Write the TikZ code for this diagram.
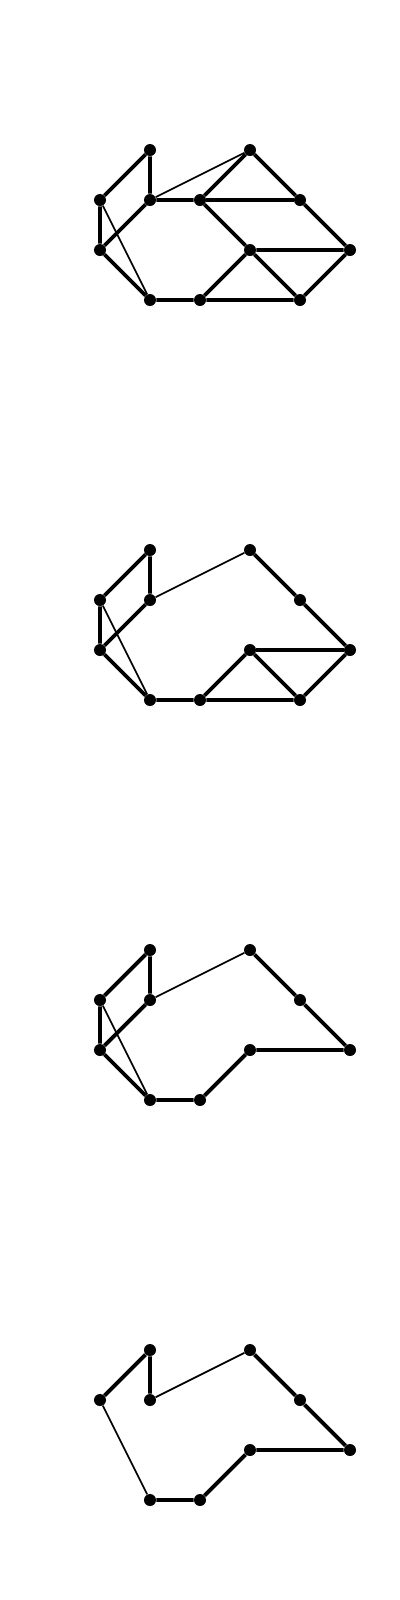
\documentclass[tikz,border=0pt]{standalone}

\tikzset{
  vert/.style={circle,fill=black,inner sep=0pt,minimum size=0.24cm},
  edge/.style={black,line width=2.2pt},
  thinedge/.style={black,line width=1pt},
}

\begin{document}
\begin{tikzpicture}
		\useasboundingbox (0,0) rectangle (8,-32);
		% first graph
		\begin{scope}
		\node[vert] (a1) at (3,-3) {};
		\node[vert] (b1) at (5,-3) {};
		\node[vert] (c1) at (2,-4) {};
		\node[vert] (d1) at (3,-4) {};
		\node[vert] (e1) at (4,-4) {};
		\node[vert] (f1) at (6,-4) {};
		\node[vert] (g1) at (2,-5) {};
		\node[vert] (h1) at (5,-5) {};
		\node[vert] (i1) at (7,-5) {};
		\node[vert] (j1) at (3,-6) {};
		\node[vert] (k1) at (4,-6) {};
		\node[vert] (l1) at (6,-6) {};
		\draw[edge] (c1)--(a1)--(d1)--(g1)--(c1);
		\draw[edge] (g1)--(j1)--(k1)--(l1)--(i1)--(f1)--(b1)--(e1)--(d1);
		\draw[edge] (e1)--(f1);
		\draw[edge] (e1)--(h1)--(i1);
		\draw[edge] (k1)--(h1)--(l1);
		\draw[thinedge] (c1)--(j1);
		\draw[thinedge] (d1)--(b1);
		\end{scope}
		% second graph
		\begin{scope}[yshift=-8cm]
		\node[vert] (a2) at (3,-3) {};
		\node[vert] (b2) at (5,-3) {};
		\node[vert] (c2) at (2,-4) {};
		\node[vert] (d2) at (3,-4) {};
		\node[vert] (f2) at (6,-4) {};
		\node[vert] (g2) at (2,-5) {};
		\node[vert] (h2) at (5,-5) {};
		\node[vert] (i2) at (7,-5) {};
		\node[vert] (j2) at (3,-6) {};
		\node[vert] (k2) at (4,-6) {};
		\node[vert] (l2) at (6,-6) {};
		\draw[edge] (c2)--(a2)--(d2)--(g2)--(c2);
		\draw[edge] (g2)--(j2)--(k2)--(l2)--(i2)--(f2)--(b2);
		\draw[edge] (k2)--(h2)--(l2);
		\draw[edge] (h2)--(i2);
		\draw[thinedge] (c2)--(j2);
		\draw[thinedge] (d2)--(b2);
		\end{scope}
		% third graph
		\begin{scope}[yshift=-16cm]
		\node[vert] (a3) at (3,-3) {};
		\node[vert] (b3) at (5,-3) {};
		\node[vert] (c3) at (2,-4) {};
		\node[vert] (d3) at (3,-4) {};
		\node[vert] (f3) at (6,-4) {};
		\node[vert] (g3) at (2,-5) {};
		\node[vert] (h3) at (5,-5) {};
		\node[vert] (i3) at (7,-5) {};
		\node[vert] (j3) at (3,-6) {};
		\node[vert] (k3) at (4,-6) {};
		\draw[edge] (c3)--(a3)--(d3)--(g3)--(c3);
		\draw[edge] (g3)--(j3)--(k3)--(h3)--(i3)--(f3)--(b3);
		\draw[thinedge] (c3)--(j3);
		\draw[thinedge] (d3)--(b3);
		\end{scope}
		% fourth graph
		\begin{scope}[yshift=-24cm]
		\node[vert] (a4) at (3,-3) {};
		\node[vert] (b4) at (5,-3) {};
		\node[vert] (c4) at (2,-4) {};
		\node[vert] (d4) at (3,-4) {};
		\node[vert] (f4) at (6,-4) {};
		\node[vert] (h4) at (5,-5) {};
		\node[vert] (i4) at (7,-5) {};
		\node[vert] (j4) at (3,-6) {};
		\node[vert] (k4) at (4,-6) {};
		\draw[edge] (c4)--(a4)--(d4);
		\draw[edge] (j4)--(k4)--(h4)--(i4)--(f4)--(b4);
		\draw[thinedge] (c4)--(j4);
		\draw[thinedge] (d4)--(b4);
		\end{scope}
	\end{tikzpicture}
\end{document}
